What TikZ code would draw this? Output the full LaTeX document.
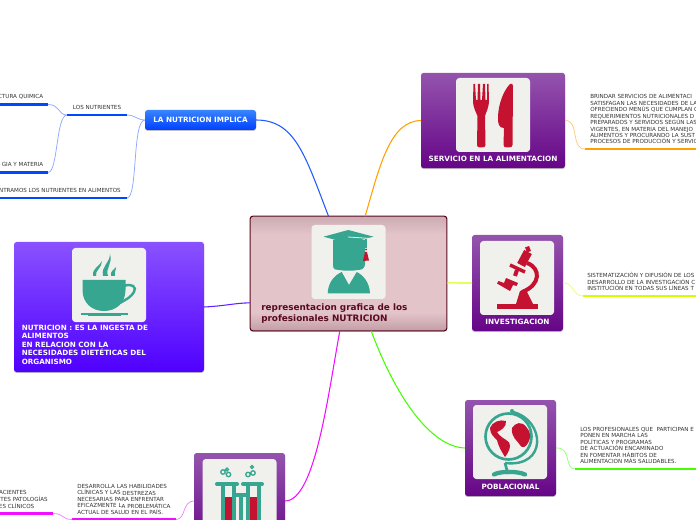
\documentclass[tikz,border=0pt]{standalone}
\usepackage{fontspec}
\setmainfont{DejaVu Sans}
\usetikzlibrary{shadows}
\definecolor{teal}{HTML}{36A690}
\definecolor{redi}{HTML}{C41230}
\definecolor{tilec}{HTML}{F0F0EC}
\definecolor{dark}{HTML}{333333}
\definecolor{maroon}{HTML}{5A0A20}
\definecolor{cblue}{HTML}{1F5CFF}
\definecolor{lblue}{HTML}{8CA8FF}
\definecolor{barblue}{HTML}{0048FF}
\definecolor{corange}{HTML}{FFA000}
\definecolor{lorange}{HTML}{FFC878}
\definecolor{cyellow}{HTML}{D4FF00}
\definecolor{lyellow}{HTML}{E6FF70}
\definecolor{cgreen}{HTML}{44FF00}
\definecolor{lgreen}{HTML}{90FF70}
\definecolor{cmag}{HTML}{F010FF}
\definecolor{lmag}{HTML}{F480FF}
\definecolor{cviolet}{HTML}{6020FF}
\pgfdeclareverticalshading{purpbox}{100bp}{rgb(0bp)=(0.40,0.02,0.53);rgb(25bp)=(0.40,0.02,0.53);rgb(75bp)=(0.58,0.33,0.68);rgb(100bp)=(0.58,0.33,0.68)}
\pgfdeclareverticalshading{bluebox}{100bp}{rgb(0bp)=(0,0.25,1);rgb(25bp)=(0,0.25,1);rgb(75bp)=(0.22,0.52,1);rgb(100bp)=(0.22,0.52,1)}
\pgfdeclareverticalshading{violbox}{100bp}{rgb(0bp)=(0.31,0,1);rgb(25bp)=(0.31,0,1);rgb(75bp)=(0.54,0.32,1);rgb(100bp)=(0.54,0.32,1)}
\pgfdeclareverticalshading{pinkbox}{100bp}{rgb(0bp)=(0.76,0.62,0.65);rgb(25bp)=(0.76,0.62,0.65);rgb(33bp)=(0.89,0.77,0.79);rgb(67bp)=(0.89,0.77,0.79);rgb(75bp)=(0.80,0.67,0.70);rgb(100bp)=(0.80,0.67,0.70)}
\tikzset{
 x=0.75pt,y=-0.75pt,
 topicbox/.style={rectangle,rounded corners=2pt,inner sep=0pt,outer sep=0pt,drop shadow={shadow xshift=0pt,shadow yshift=-0.7pt,opacity=.25,fill=black}},
 purple box/.style={topicbox,shading=purpbox,minimum width=#1*0.75pt,minimum height=72pt},
 tile/.style={rectangle,fill=tilec,rounded corners=2.5pt,minimum width=55.5pt,minimum height=55.5pt,inner sep=0pt},
 title/.style={font=\fontsize{5.45}{6.5}\selectfont\bfseries,text=white,inner sep=0pt},
 small/.style={font=\fontsize{4.2}{4.85}\selectfont,text=dark,inner sep=0pt,align=left,anchor=north west},
 smallr/.style={font=\fontsize{4.2}{4.85}\selectfont,text=dark,inner sep=0pt,anchor=base east},
 smallc/.style={font=\fontsize{4.2}{4.85}\selectfont,text=dark,inner sep=0pt,anchor=base},
 main/.style={line width=0.8pt},
 sub/.style={line width=0.55pt},
 bar/.style={line width=1.8pt},
 ink/.style={fill=teal,draw=none},
}
\begin{document}
\begin{tikzpicture}
\useasboundingbox (0,0) rectangle (696,520);
\clip (0,0) rectangle (696,520);

% bar ends
\coordinate (sa) at (585,149); \coordinate (sb) at (700,149);
\coordinate (ia) at (583,296); \coordinate (ib) at (700,296);
\coordinate (pa) at (575,469); \coordinate (pb) at (700,469);
\coordinate (ta) at (176,519.5); \coordinate (tb) at (72,519.5);
\coordinate (ua) at (53,513.5); \coordinate (ub) at (-5,513.5);
\coordinate (na) at (127,115); \coordinate (nb) at (67,115);
\coordinate (qa) at (48,104.5); \coordinate (qb) at (-5,104.5);
\coordinate (ra) at (48,172.5); \coordinate (rb) at (-5,172.5);
\coordinate (ea) at (127,198); \coordinate (eb) at (-5,198);

% boxes
\node[topicbox,shading=pinkbox,draw=maroon,line width=0.8pt,minimum width=147.5pt,minimum height=86pt] (center) at (348.5,273.5) {};
\node[purple box=144,minimum height=71.5pt] (serv) at (493,120.5) {};
\node[purple box=91] (inv) at (517.5,283) {};
\node[purple box=91] (pob) at (510.5,448) {};
\node[purple box=91] (tub) at (239.5,501) {};
\node[topicbox,shading=violbox,minimum width=142.5pt,minimum height=97.5pt] (nut) at (109,307) {};
\node[topicbox,shading=bluebox,minimum width=83.25pt,minimum height=15pt] (imp) at (200.5,120) {};

% main connectors
\draw[main,cblue] (imp.east) .. controls (295,120) and (305,155) .. ([xshift=-15pt]center.north);
\draw[main,corange] ([xshift=12.5pt]center.north) .. controls (380,165) and (390,121) .. (serv.west);
\draw[main,cyellow] ([yshift=-7pt]center.east) .. controls (455,283) and (462,283) .. (inv.west);
\draw[main,cgreen] ([xshift=17pt]center.south) .. controls (395,395) and (430,447) .. (pob.west);
\draw[main,cviolet] ([yshift=-22pt]center.west) .. controls (235,303) and (225,306) .. (nut.east);
\draw[main,cmag] ([xshift=-6.5pt]center.south) .. controls (328,395) and (315,501) .. (tub.east);

% sub connectors and bars
\draw[sub,lorange] (serv.east) .. controls (580,120) and (570,149) .. (sa);
\draw[bar,corange] (sa) -- (sb);
\draw[sub,lyellow] (inv.east) .. controls (575,283) and (572,296) .. (ia);
\draw[bar,cyellow] (ia) -- (ib);
\draw[sub,lgreen] (pob.east) .. controls (572,447) and (564,469) .. (pa);
\draw[bar,cgreen] (pa) -- (pb);
\draw[sub,lmag] (tub.west) .. controls (182,501) and (186,519.5) .. (ta);
\draw[bar,cmag] (ta) -- (tb);
\draw[sub,lmag] (tb) .. controls (62,519.5) and (64,513.5) .. (ua);
\draw[bar,cmag] (ua) -- (ub);
\draw[sub,lblue] (imp.west) .. controls (137,120) and (135,115) .. (na);
\draw[bar,barblue] (na) -- (nb);
\draw[sub,lblue] (nb) .. controls (58,115) and (60,104.5) .. (qa);
\draw[bar,barblue] (qa) -- (qb);
\draw[sub,lblue] (nb) .. controls (56,115) and (58,172.5) .. (ra);
\draw[bar,barblue] (ra) -- (rb);
\draw[sub,lblue] (imp.west) .. controls (132,120) and (138,198) .. (ea);
\draw[bar,barblue] (ea) -- (eb);

% titles
\node[title] (timp) at (200.5,120) {LA NUTRICION IMPLICA};
\node[title] (tserv) at (493,159) {SERVICIO EN LA ALIMENTACION};
\node[title] (tinv) at (517.5,321.5) {INVESTIGACION};
\node[title] (tpob) at (510.5,486.5) {POBLACIONAL};
\node[font=\fontsize{6.65}{8.3}\selectfont\bfseries,text=maroon,inner sep=0pt,align=left,anchor=north west] (tcenter) at (261,303.5) {representacion grafica de los\\profesionales NUTRICION};
\node[font=\fontsize{5.4}{6.45}\selectfont\bfseries,text=white,inner sep=0pt,align=left,anchor=north west] (tnut) at (21.5,324.5) {NUTRICION : ES LA INGE\raisebox{-0.5pt}{STA DE}\\ALIMENTOS\\EN RELACION CON LA\\NECESIDADES DIETÉTICAS DEL\\ORGANISMO};

% small texts
\node[small] (xs) at (590,94.3) {BRINDAR SERVICIOS DE ALIMENTACI\\SATISFAGAN LAS NECESIDADES DE LA\\OFRECIENDO MENÚS QUE CUMPLAN C\\REQUERIMIENTOS NUTRICIONALES D\\PREPARADOS Y SERVIDOS SEGÚN LAS\\VIGENTES, EN MATERIA DEL MANEJO\\ALIMENTOS Y PROCURANDO LA SUST\\PROCESOS DE PRODUCCIÓN Y SERVIC};
\node[small] (xi) at (587,272.5) {SISTEMATIZACIÓN Y DIFUSIÓN DE LOS\\DESARROLLO DE LA INVESTIGACIÓN C\\INSTITUCIÓN EN TODAS SUS LÍNEAS T};
\node[small] (xp) at (580,427) {LOS PROFESIONALES QUE\ \ PARTICIPAN E\\PONEN EN MARCHA LAS\\POLÍTICAS Y PROGRAMAS\\DE ACTUACIÓN ENCAMINADO\\EN FOMENTAR HÁBITOS DE\\ALIMENTACION MÁS SALUDABLES.};
\node[small] (xt) at (77,484) {DESARROLLA LAS HABILIDADES\\CLÍNICAS Y LAS \raisebox{-0.5pt}{DESTREZAS}\\NECESARIAS PARA ENFRENTAR\\EFICAZMENTE L\raisebox{-0.5pt}{A PROBLEMÁTICA}\\ACTUAL DE SALUD EN EL PAÍS.};
\node[smallr] at (27,494.5) (xu1) {ACIENTES};
\node[smallr] at (48,501.5) (xu2) {TES PATOLOGÍAS};
\node[smallr] at (34.5,508) (xu3) {ES CLÍNICOS};
\node[smallc] at (97,109.8) (xn) {LOS NUTRIENTES};
\node[smallr] at (43.5,99) (xq) {CTURA QUIMICA};
\node[smallr] at (43.5,167) (xr) {GIA Y MATERIA};
\node[smallr] at (121,193) (xe) {NTRAMOS LOS NUTRIENTES EN ALIMENTOS};

% tiles
\node[tile] (t0) at (348.5,262) {};
\node[tile] (t1) at (493,115) {};
\node[tile] (t2) at (517,278) {};
\node[tile] (t3) at (510,442) {};
\node[tile] (t4) at (239.5,496) {};
\node[tile] (t5) at (109,285) {};

% graduate icon
\fill[teal] (333,240) -- (333,265) .. controls (333,270) and (336,270) .. (339,270) .. controls (345,271) and (352,271) .. (358,270) .. controls (362,270) and (365,268) .. (365,264) -- (365,240) -- cycle;
\fill[teal] (323.5,236.7) -- (348.3,230) -- (373.5,236.7) -- (348.3,243.3) -- cycle;
\fill[teal] (327.7,293.5) .. controls (328,282) and (335,275) .. (341.7,272) -- (349,285) -- (356.7,272) .. controls (363,275) and (369.5,282) .. (370,293.5) -- cycle;
\draw[tilec,line width=0.6pt] (348,237) -- (371,238.5);
\draw[teal,line width=1.1pt] (366,239) -- (366,248);
\fill[redi] (366,249.5) circle (1);
\fill[redi] (365,252) -- (367,252) -- (369,260.5) -- (363,261) -- cycle;

% fork and knife
\fill[redi] (473.5,84) -- (475,84) -- (476,100) -- (477.5,100) -- (478,84) -- (480,84) -- (480.5,100) -- (482,100) -- (483,84) -- (485,84) -- (485.5,100) -- (487,100) -- (487,84) -- (488.5,84) -- (489,100) .. controls (489,108) and (486,112) .. (485,116) -- (485.5,145) .. controls (485.5,147) and (484,147.5) .. (481,147.5) .. controls (478,147.5) and (477,147) .. (477,145) -- (477.5,116) .. controls (476,112) and (473,108) .. (473,100) -- cycle;
\fill[redi] (510,84) .. controls (512,83) and (513,84) .. (513,86) -- (512.5,145) .. controls (512.5,147) and (511,147.5) .. (508,147.5) .. controls (505,147.5) and (503.5,147) .. (503.5,145) -- (504,128) .. controls (499,128) and (498,124) .. (498,118) .. controls (498,104) and (504,90) .. (510,84) -- cycle;

% microscope
\fill[redi] (496.5,304) rectangle (537.5,309.5);
\fill[redi] (516,304) -- (520,291) -- (526,290) -- (533,304) -- cycle;
\draw[redi,line width=3pt] (527,263) .. controls (541,268) and (541,285) .. (522,292);
\draw[redi,line width=6.5pt] (521,265) -- (528,252);
\draw[redi,line width=4pt] (526,250) -- (530,248.5);
\draw[redi,line width=2.6pt] (510,265) -- (525,272);
\draw[redi,line width=3pt] (517,270) -- (515,276);
\fill[redi] (506,278) -- (518,283) -- (516.5,286) -- (513,285) -- (510,291) -- (497,283.5) -- (498.5,281) -- (504,283) -- cycle;

% globe
\draw[teal,line width=2pt] (508.5,436.5) circle (23);
\draw[teal,line width=1.8pt] (513,412) .. controls (545,420) and (548,468) .. (505,463);
\draw[teal,line width=2pt] (505,463) -- (508,474);
\draw[teal,line width=3.2pt,line cap=round] (494,474.5) .. controls (500,471) and (518,471) .. (525,474.5);
\fill[teal] (512,411) circle (2);
\fill[redi] (490,428) .. controls (492,422) and (500,419) .. (506,421) .. controls (507,427) and (500,431) .. (497,432) .. controls (502,440) and (511,440) .. (510,446) .. controls (510,450) and (506,456) .. (505,457) .. controls (502,452) and (499,448) .. (497,440) .. controls (494,437) and (490,434) .. (490,428) -- cycle;
\fill[redi] (512,428) .. controls (515,423) and (522,420) .. (527,428) .. controls (531,432) and (531,438) .. (528,443) .. controls (526,447) and (522,449) .. (520,445) .. controls (518,441) and (511,438) .. (512,428) -- cycle;

% cup
\fill[teal] (82.5,280) -- (125.5,280) -- (125.5,290) .. controls (125.5,303) and (116,311) .. (104,311) .. controls (92,311) and (82.5,303) .. (82.5,290) -- cycle;
\draw[teal,line width=1.8pt] (124,286) .. controls (132,283) and (137,287) .. (134,292) .. controls (131,297) and (127,299) .. (120,303);
\fill[teal] (81,313) rectangle (128,315);
\fill[teal] (88,315) rectangle (121,316.5);
\fill[teal] (93,276) .. controls (92,268) and (100,266) .. (102,261) .. controls (102,268) and (95,270) .. (96,276) -- cycle;
\fill[teal] (103,276) .. controls (101,266) and (110,263) .. (110,254) .. controls (113,264) and (105,268) .. (108,276) -- cycle;
\fill[teal] (111,276) .. controls (110,271) and (114,270) .. (116,267) .. controls (116,271) and (114,272) .. (115,276) -- cycle;

% test tubes
\draw[teal,line width=3pt,line cap=round] (217,484) -- (237,484) (243,484) -- (262,484);
\draw[teal,line width=2.3pt] (223,485) -- (223,520) (234,485) -- (234,520) (248,485) -- (248,520) (259,485) -- (259,520);
\draw[teal,line width=2.3pt] (234,495) -- (248,495) (241,495) -- (241,520);
\fill[redi] (224.5,497) rectangle (232,520);
\fill[redi] (250,497) rectangle (257,520);
\draw[teal,line width=1pt] (223,472) circle (2.2) (228.5,474.5) circle (2.2) (227,469.5) circle (1.5);
\draw[teal,line width=1pt] (248,474.5) circle (2.2) (253,473) circle (2.2) (252,467) circle (1.5);
\end{tikzpicture}
\end{document}
